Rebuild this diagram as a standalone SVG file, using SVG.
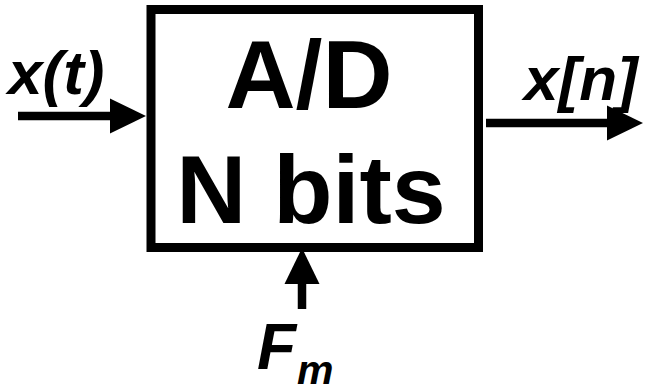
<svg xmlns="http://www.w3.org/2000/svg" width="649" height="388" viewBox="0 0 649 388">
  <style>
    text { font-family: "Liberation Sans", Arial, Helvetica, sans-serif; font-weight: bold; fill: #000; }
    .lbl { font-style: italic; font-size: 62px; }
    .big { font-size: 97px; text-anchor: middle; }
    .box { fill: #fff; stroke: #000; stroke-width: 9; }
    .wire { stroke: #000; stroke-width: 8.5; fill: none; marker-end: url(#arrow); }
  </style>
  <defs>
    <marker id="arrow" markerUnits="userSpaceOnUse" markerWidth="36" markerHeight="36" refX="0" refY="17.5" orient="auto" overflow="visible">
      <path d="M0,0 L36,17.5 L0,35 Z" fill="#000"/>
    </marker>
  </defs>
  <rect width="649" height="388" fill="#fff"/>
  <g id="adc">
    <rect class="box" x="151" y="9.5" width="327.5" height="238"/>
    <text class="big" x="309" y="108">A/D</text>
    <text class="big" x="311" y="223">N bits</text>
  </g>
  <g id="input">
    <text class="lbl" x="8" y="94">x(t)</text>
  </g>
  <g id="output">
    <text class="lbl" x="524" y="100">x[n]</text>
  </g>
  <g id="clock">
    <text class="lbl" x="257" y="369" style="font-size:64px">F</text>
    <text class="lbl" x="297" y="384" style="font-size:41px">m</text>
  </g>
  <g id="connectors">
    <line class="wire" x1="18" y1="116" x2="110" y2="116"/>
    <line class="wire" x1="486" y1="123" x2="607" y2="123"/>
    <line class="wire" x1="302" y1="309" x2="302" y2="284"/>
  </g>
</svg>
